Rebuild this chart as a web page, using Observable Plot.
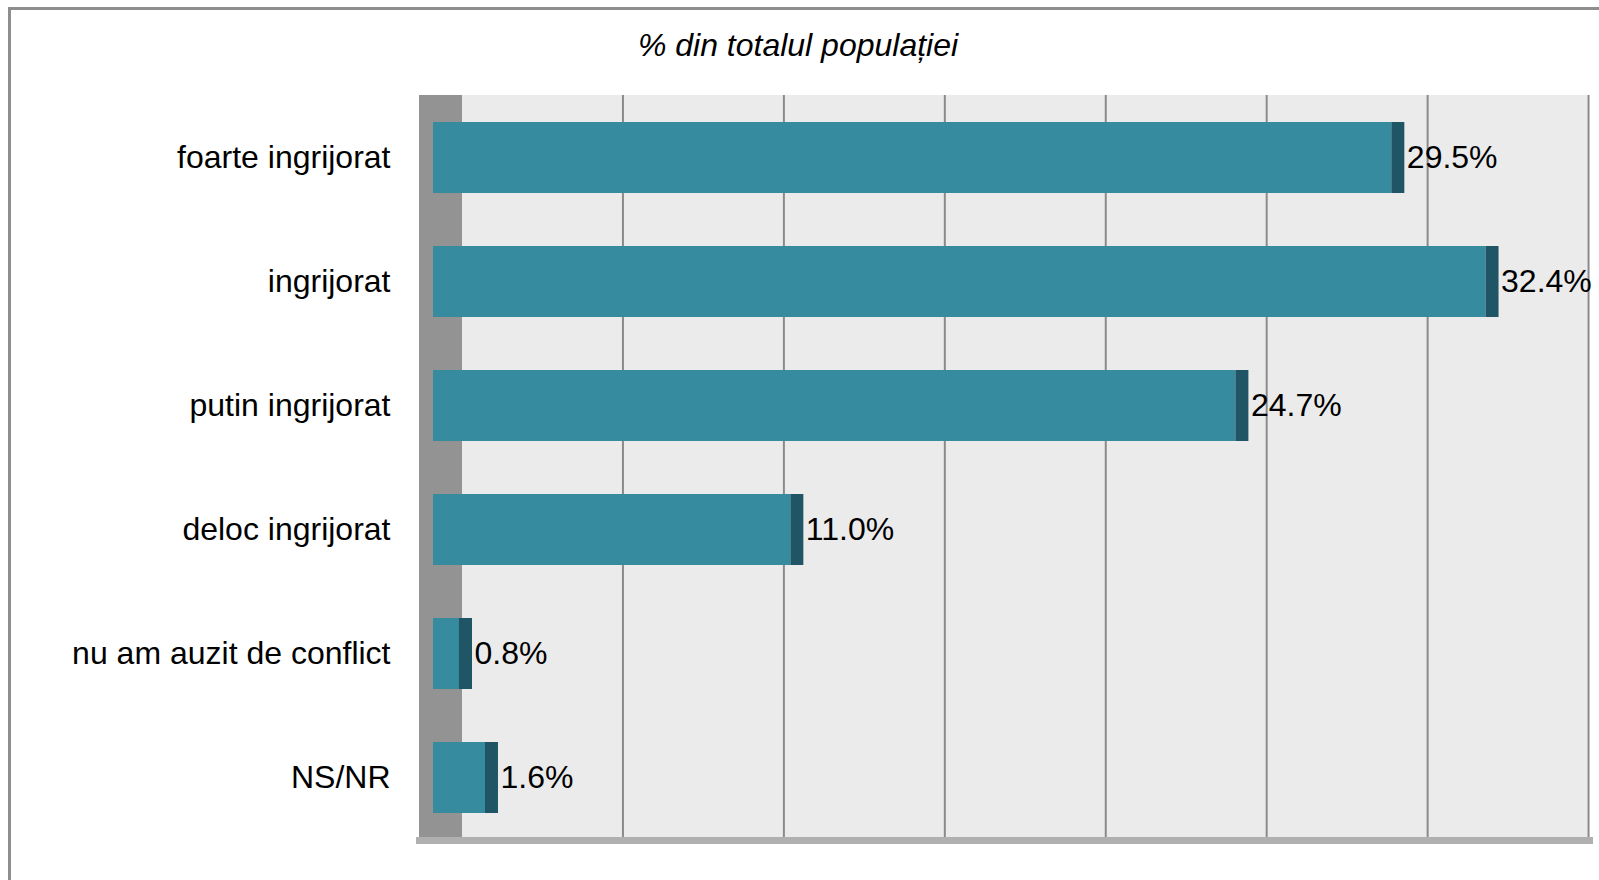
<!DOCTYPE html>
<html>
<head>
<meta charset="utf-8">
<script src="https://cdn.jsdelivr.net/npm/d3@7"></script>
<script src="https://cdn.jsdelivr.net/npm/@observablehq/plot@0.6"></script>
<style>
  html, body { margin: 0; padding: 0; background: #fff; overflow: hidden; width: 1599px; height: 880px; }
  #border { position: absolute; left: 8px; top: 7px; width: 1700px; height: 1000px;
            border-left: 3px solid #8e8e8e; border-top: 3px solid #8e8e8e; }
  #title { position: absolute; left: 11px; top: 10px; width: 1574px; height: 70px;
           font: italic 32px "Liberation Sans", Arial, sans-serif; line-height: 70px;
           text-align: center; color: #000; }
  #chart { position: absolute; left: 11px; top: 80px; }
</style>
</head>
<body>
<div id="border"></div>
<div id="title">% din totalul populației</div>
<div id="chart"></div>
<script>
const categories = ["foarte ingrijorat", "ingrijorat", "putin ingrijorat", "deloc ingrijorat", "nu am auzit de conflict", "NS/NR"];
const values = [29.5, 32.4, 24.7, 11.0, 0.8, 1.6];
const xDomain = [0, 35];
const gridTicks = [5, 10, 15, 20, 25, 30, 35];

const data = categories.map((c, i) => ({category: c, value: values[i]}));

// back plane is slightly offset/narrowed relative to the front plane (3D look)
function backPlane(index, scales, vals, dims, ctx, next) {
  const g = next(index, scales, vals, dims, ctx);
  g.setAttribute("transform", "translate(32.9,0) scale(0.9908,1)");
  return g;
}

const chart = Plot.plot({
  width: 1588,
  height: 800,
  marginLeft: 422,
  marginRight: 29,
  marginTop: 15,
  marginBottom: 40,
  style: {fontFamily: "'Liberation Sans', Arial, sans-serif", fontSize: "32px", color: "#000", background: "transparent", overflow: "visible"},
  x: {domain: xDomain, axis: null},
  y: {domain: categories, paddingInner: 0.424, paddingOuter: 0.212, axis: null},
  marks: [
    Plot.rect([null], {x1: xDomain[0], x2: xDomain[1], fill: "#ebebeb", render: backPlane}),
    Plot.ruleX(gridTicks, {stroke: "#8a8a8a", strokeWidth: 2, render: backPlane}),
    Plot.rect([null], {x1: xDomain[0], x2: xDomain[0], insetLeft: -14, insetRight: -29, insetBottom: -2, fill: "#939393"}),
    Plot.frame({anchor: "bottom", stroke: "#b0b0b0", strokeWidth: 7, insetLeft: -14, insetRight: -19}),
    Plot.barX(data, {x: "value", y: "category", fill: "#368b9f"}),
    Plot.barX(data, {x1: "value", x2: "value", y: "category", fill: "#1f5565", insetRight: -13}),
    Plot.text(data, {x: "value", y: "category", text: d => d.value.toFixed(1) + "%", textAnchor: "start", dx: 15, fontSize: 32, fill: "#000"}),
    Plot.axisY({tickSize: 0, tickPadding: 43, fontSize: 32, label: null})
  ]
});
document.getElementById("chart").appendChild(chart);
</script>
</body>
</html>
